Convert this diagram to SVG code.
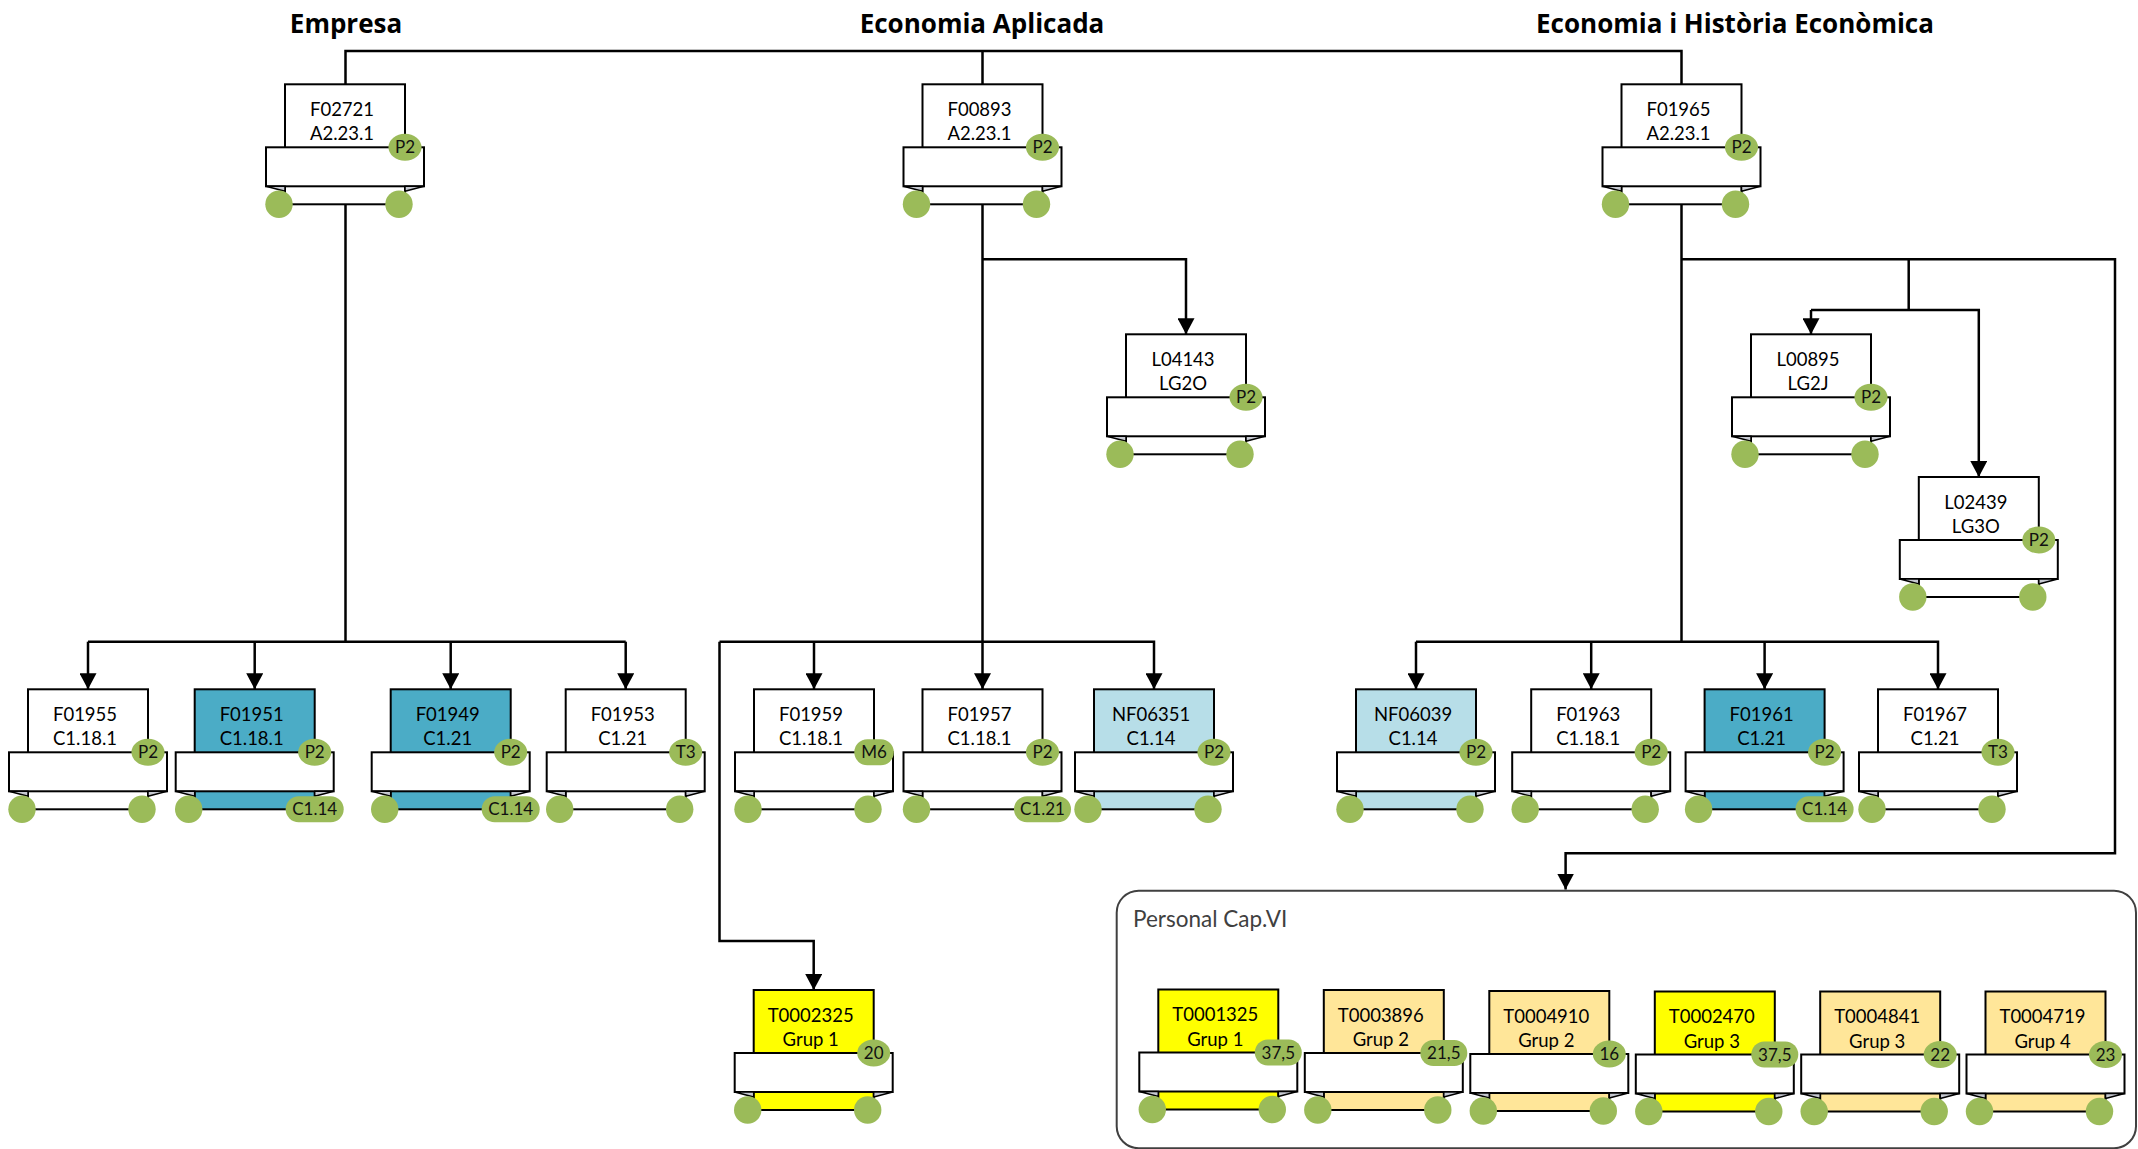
<svg xmlns="http://www.w3.org/2000/svg" xmlns:xlink="http://www.w3.org/1999/xlink" width="2138" height="1149" viewBox="0 0 2138 1149">
<style>
.body{stroke:#000;stroke-width:2}
.w{fill:#fff}.teal{fill:#4BACC6}.lb{fill:#B7DEE8}.yel{fill:#FFFF00}.org{fill:#FFE699}
.rib{fill:#fff;stroke:#000;stroke-width:2}
.fold{fill:#C6C9D1;stroke:#000;stroke-width:1.5;stroke-linejoin:miter}
.dot{fill:#9BBB59}
.t{font-family:Lato,"Open Sans","Liberation Sans",sans-serif;font-size:18.5px;fill:#000;text-anchor:middle}
.b{font-family:Lato,"Open Sans","Liberation Sans",sans-serif;font-size:17px;fill:#111;text-anchor:middle}
.h{font-family:"Open Sans","Liberation Sans",sans-serif;font-weight:bold;font-size:26px;fill:#000;text-anchor:middle}
.con{fill:none;stroke:#000;stroke-width:2.5}
.arr{marker-end:url(#ah)}
.box{fill:none;stroke:#404040;stroke-width:2}
.lbl{font-family:Lato,"Open Sans","Liberation Sans",sans-serif;font-size:22.5px;fill:#404040}
</style>
<defs>
<marker id="ah" markerUnits="userSpaceOnUse" markerWidth="17" markerHeight="17" refX="16" refY="8.5" orient="auto" viewBox="0 0 17 17">
<path d="M0,0 L16,8.5 L0,17 Z" fill="#000"/>
</marker>
<g id="frame">
<rect class="rib" x="-19" y="63" width="158" height="39"/>
<path class="fold" d="M-19,102 L0,107 L0,102 Z M139,102 L120,107 L120,102 Z"/>
<circle class="dot" cx="-6" cy="120" r="13.7"/>
</g>
<circle id="rdot" class="dot" cx="114" cy="120" r="13.7"/>
</defs>

<rect width="2138" height="1149" fill="#fff"/>

<g id="headings">
<text class="h" x="346" y="33">Empresa</text>
<text class="h" x="982" y="33">Economia Aplicada</text>
<text class="h" x="1735" y="33">Economia i Història Econòmica</text>
</g>

<g id="container">
<rect class="box" x="1116.7" y="890.7" width="1019.3" height="257.5" rx="22" ry="22"/>
<text class="lbl" x="1133" y="927">Personal Cap.VI</text>
</g>

<g id="connectors">
<path class="con" d="M345.5,51 H1681.5 M345.5,49.8 V84.3 M982.5,51 V84.3 M1681.5,49.8 V84.3"/>
<path class="con" d="M345.5,204.3 V641.7 M88,641.7 H625.7"/>
<path class="con arr" d="M88,641.7 V689.3"/>
<path class="con arr" d="M254.7,641.7 V689.3"/>
<path class="con arr" d="M450.7,641.7 V689.3"/>
<path class="con arr" d="M625.7,641.7 V689.3"/>
<path class="con arr" d="M982.5,204.3 V689.3"/>
<path class="con arr" d="M982.5,259.3 H1186 V334.3"/>
<path class="con arr" d="M719.5,641.7 H1154 V689.3"/>
<path class="con arr" d="M814,641.7 V689.3"/>
<path class="con arr" d="M719.5,641.7 V941 H813.7 V990"/>
<path class="con" d="M1681.5,204.3 V641.7"/>
<path class="con arr" d="M1416,641.7 H1938 V689.3"/>
<path class="con arr" d="M1416,641.7 V689.3"/>
<path class="con arr" d="M1591.2,641.7 V689.3"/>
<path class="con arr" d="M1764.6,641.7 V689.3"/>
<path class="con arr" d="M1681.5,259.3 H2115 V853.3 H1565.6 V889.5"/>
<path class="con" d="M1908.7,259.3 V310"/>
<path class="con arr" d="M1811,310 H1978.8 V477"/>
<path class="con arr" d="M1811,310 V334.3"/>
</g>

<g id="n-F02721" transform="translate(285,84.3)">
<rect class="body w" width="120" height="120"/><use href="#frame"/><use href="#rdot"/>
<ellipse class="dot" cx="120" cy="63" rx="16.5" ry="13.5"/>
<text class="t" x="57" y="31.5">F02721</text><text class="t" x="57" y="56">A2.23.1</text><text class="b" x="120" y="69">P2</text>
</g>
<g id="n-F00893" transform="translate(922.5,84.3)">
<rect class="body w" width="120" height="120"/><use href="#frame"/><use href="#rdot"/>
<ellipse class="dot" cx="120" cy="63" rx="16.5" ry="13.5"/>
<text class="t" x="57" y="31.5">F00893</text><text class="t" x="57" y="56">A2.23.1</text><text class="b" x="120" y="69">P2</text>
</g>
<g id="n-F01965" transform="translate(1621.5,84.3)">
<rect class="body w" width="120" height="120"/><use href="#frame"/><use href="#rdot"/>
<ellipse class="dot" cx="120" cy="63" rx="16.5" ry="13.5"/>
<text class="t" x="57" y="31.5">F01965</text><text class="t" x="57" y="56">A2.23.1</text><text class="b" x="120" y="69">P2</text>
</g>
<g id="n-L04143" transform="translate(1126,334.3)">
<rect class="body w" width="120" height="120"/><use href="#frame"/><use href="#rdot"/>
<ellipse class="dot" cx="120" cy="63" rx="16.5" ry="13.5"/>
<text class="t" x="57" y="31.5">L04143</text><text class="t" x="57" y="56">LG2O</text><text class="b" x="120" y="69">P2</text>
</g>
<g id="n-L00895" transform="translate(1751,334.3)">
<rect class="body w" width="120" height="120"/><use href="#frame"/><use href="#rdot"/>
<ellipse class="dot" cx="120" cy="63" rx="16.5" ry="13.5"/>
<text class="t" x="57" y="31.5">L00895</text><text class="t" x="57" y="56">LG2J</text><text class="b" x="120" y="69">P2</text>
</g>
<g id="n-L02439" transform="translate(1918.8,477)">
<rect class="body w" width="120" height="120"/><use href="#frame"/><use href="#rdot"/>
<ellipse class="dot" cx="120" cy="63" rx="16.5" ry="13.5"/>
<text class="t" x="57" y="31.5">L02439</text><text class="t" x="57" y="56">LG3O</text><text class="b" x="120" y="69">P2</text>
</g>

<g id="n-F01955" transform="translate(28,689.3)">
<rect class="body w" width="120" height="120"/><use href="#frame"/><use href="#rdot"/>
<ellipse class="dot" cx="120" cy="63" rx="16.5" ry="13.5"/>
<text class="t" x="57" y="31.5">F01955</text><text class="t" x="57" y="56">C1.18.1</text><text class="b" x="120" y="69">P2</text>
</g>
<g id="n-F01951" transform="translate(194.7,689.3)">
<rect class="body teal" width="120" height="120"/><use href="#frame"/>
<ellipse class="dot" cx="120" cy="63" rx="16.5" ry="13.5"/>
<rect class="dot" x="91" y="107" width="58" height="26" rx="13"/>
<text class="t" x="57" y="31.5">F01951</text><text class="t" x="57" y="56">C1.18.1</text><text class="b" x="120" y="69">P2</text><text class="b" x="120" y="126">C1.14</text>
</g>
<g id="n-F01949" transform="translate(390.7,689.3)">
<rect class="body teal" width="120" height="120"/><use href="#frame"/>
<ellipse class="dot" cx="120" cy="63" rx="16.5" ry="13.5"/>
<rect class="dot" x="91" y="107" width="58" height="26" rx="13"/>
<text class="t" x="57" y="31.5">F01949</text><text class="t" x="57" y="56">C1.21</text><text class="b" x="120" y="69">P2</text><text class="b" x="120" y="126">C1.14</text>
</g>
<g id="n-F01953" transform="translate(565.7,689.3)">
<rect class="body w" width="120" height="120"/><use href="#frame"/><use href="#rdot"/>
<ellipse class="dot" cx="120" cy="63" rx="16.5" ry="13.5"/>
<text class="t" x="57" y="31.5">F01953</text><text class="t" x="57" y="56">C1.21</text><text class="b" x="120" y="69">T3</text>
</g>
<g id="n-F01959" transform="translate(754,689.3)">
<rect class="body w" width="120" height="120"/><use href="#frame"/><use href="#rdot"/>
<rect class="dot" x="100.3" y="50" width="39.5" height="26" rx="13"/>
<text class="t" x="57" y="31.5">F01959</text><text class="t" x="57" y="56">C1.18.1</text><text class="b" x="120" y="69">M6</text>
</g>
<g id="n-F01957" transform="translate(922.5,689.3)">
<rect class="body w" width="120" height="120"/><use href="#frame"/>
<ellipse class="dot" cx="120" cy="63" rx="16.5" ry="13.5"/>
<rect class="dot" x="91.5" y="107" width="57" height="26" rx="13"/>
<text class="t" x="57" y="31.5">F01957</text><text class="t" x="57" y="56">C1.18.1</text><text class="b" x="120" y="69">P2</text><text class="b" x="120" y="126">C1.21</text>
</g>
<g id="n-NF06351" transform="translate(1094,689.3)">
<rect class="body lb" width="120" height="120"/><use href="#frame"/><use href="#rdot"/>
<ellipse class="dot" cx="120" cy="63" rx="16.5" ry="13.5"/>
<text class="t" x="57" y="31.5">NF06351</text><text class="t" x="57" y="56">C1.14</text><text class="b" x="120" y="69">P2</text>
</g>
<g id="n-NF06039" transform="translate(1356,689.3)">
<rect class="body lb" width="120" height="120"/><use href="#frame"/><use href="#rdot"/>
<ellipse class="dot" cx="120" cy="63" rx="16.5" ry="13.5"/>
<text class="t" x="57" y="31.5">NF06039</text><text class="t" x="57" y="56">C1.14</text><text class="b" x="120" y="69">P2</text>
</g>
<g id="n-F01963" transform="translate(1531.2,689.3)">
<rect class="body w" width="120" height="120"/><use href="#frame"/><use href="#rdot"/>
<ellipse class="dot" cx="120" cy="63" rx="16.5" ry="13.5"/>
<text class="t" x="57" y="31.5">F01963</text><text class="t" x="57" y="56">C1.18.1</text><text class="b" x="120" y="69">P2</text>
</g>
<g id="n-F01961" transform="translate(1704.6,689.3)">
<rect class="body teal" width="120" height="120"/><use href="#frame"/>
<ellipse class="dot" cx="120" cy="63" rx="16.5" ry="13.5"/>
<rect class="dot" x="91" y="107" width="58" height="26" rx="13"/>
<text class="t" x="57" y="31.5">F01961</text><text class="t" x="57" y="56">C1.21</text><text class="b" x="120" y="69">P2</text><text class="b" x="120" y="126">C1.14</text>
</g>
<g id="n-F01967" transform="translate(1878,689.3)">
<rect class="body w" width="120" height="120"/><use href="#frame"/><use href="#rdot"/>
<ellipse class="dot" cx="120" cy="63" rx="16.5" ry="13.5"/>
<text class="t" x="57" y="31.5">F01967</text><text class="t" x="57" y="56">C1.21</text><text class="b" x="120" y="69">T3</text>
</g>

<g id="n-T0002325" transform="translate(753.7,990)">
<rect class="body yel" width="120" height="120"/><use href="#frame"/><use href="#rdot"/>
<ellipse class="dot" cx="120" cy="63" rx="16.5" ry="13.5"/>
<text class="t" x="57" y="31.5">T0002325</text><text class="t" x="57" y="56">Grup 1</text><text class="b" x="120" y="69">20</text>
</g>
<g id="n-T0001325" transform="translate(1158.3,989.5)">
<rect class="body yel" width="120" height="120"/><use href="#frame"/><use href="#rdot"/>
<rect class="dot" x="96.5" y="50" width="47" height="26" rx="13"/>
<text class="t" x="57" y="31.5">T0001325</text><text class="t" x="57" y="56">Grup 1</text><text class="b" x="120" y="69">37,5</text>
</g>
<g id="n-T0003896" transform="translate(1323.8,990)">
<rect class="body org" width="120" height="120"/><use href="#frame"/><use href="#rdot"/>
<rect class="dot" x="96.5" y="50" width="47" height="26" rx="13"/>
<text class="t" x="57" y="31.5">T0003896</text><text class="t" x="57" y="56">Grup 2</text><text class="b" x="120" y="69">21,5</text>
</g>
<g id="n-T0004910" transform="translate(1489.3,991)">
<rect class="body org" width="120" height="120"/><use href="#frame"/><use href="#rdot"/>
<ellipse class="dot" cx="120" cy="63" rx="16.5" ry="13.5"/>
<text class="t" x="57" y="31.5">T0004910</text><text class="t" x="57" y="56">Grup 2</text><text class="b" x="120" y="69">16</text>
</g>
<g id="n-T0002470" transform="translate(1654.8,991.5)">
<rect class="body yel" width="120" height="120"/><use href="#frame"/><use href="#rdot"/>
<rect class="dot" x="96.5" y="50" width="47" height="26" rx="13"/>
<text class="t" x="57" y="31.5">T0002470</text><text class="t" x="57" y="56">Grup 3</text><text class="b" x="120" y="69">37,5</text>
</g>
<g id="n-T0004841" transform="translate(1820.2,991.5)">
<rect class="body org" width="120" height="120"/><use href="#frame"/><use href="#rdot"/>
<ellipse class="dot" cx="120" cy="63" rx="16.5" ry="13.5"/>
<text class="t" x="57" y="31.5">T0004841</text><text class="t" x="57" y="56">Grup 3</text><text class="b" x="120" y="69">22</text>
</g>
<g id="n-T0004719" transform="translate(1985.5,991.5)">
<rect class="body org" width="120" height="120"/><use href="#frame"/><use href="#rdot"/>
<ellipse class="dot" cx="120" cy="63" rx="16.5" ry="13.5"/>
<text class="t" x="57" y="31.5">T0004719</text><text class="t" x="57" y="56">Grup 4</text><text class="b" x="120" y="69">23</text>
</g>
</svg>
